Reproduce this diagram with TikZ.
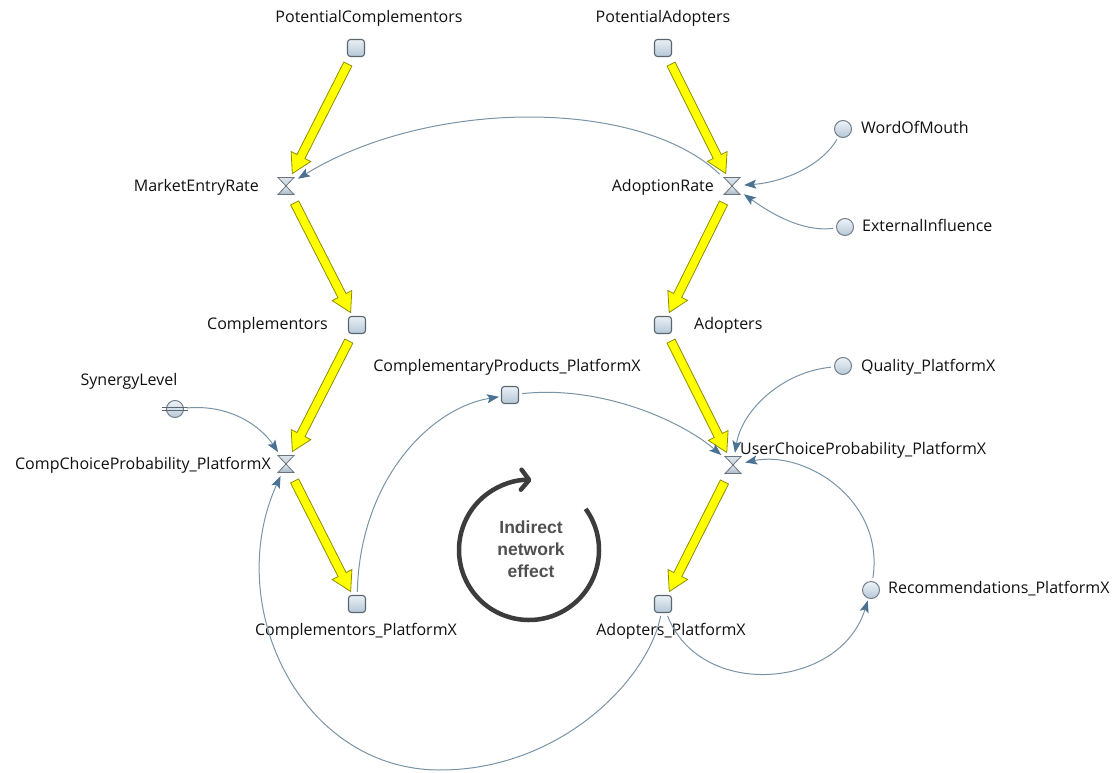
\documentclass[tikz,border=0pt]{standalone}
\usepackage{fontspec}
\setmainfont{Open Sans}
\newfontfamily\loopfont{Liberation Sans}
\usetikzlibrary{arrows.meta,calc}

\definecolor{stockedge}{HTML}{5C666F}
\definecolor{stocktop}{HTML}{EAF0F5}
\definecolor{stockbot}{HTML}{B4C7D8}
\definecolor{auxedge}{HTML}{747F89}
\definecolor{auxtop}{HTML}{EEF3F8}
\definecolor{auxbot}{HTML}{B6C8D7}
\definecolor{valveedge}{HTML}{6A737C}
\definecolor{valvetop}{HTML}{E2E9EF}
\definecolor{valvebot}{HTML}{A7B8C6}
\definecolor{linkcol}{HTML}{7A94A7}
\definecolor{headcol}{HTML}{4A7292}
\definecolor{flowedge}{HTML}{8E8E00}
\definecolor{flowfill}{HTML}{FFFF00}
\definecolor{loopcol}{HTML}{3C3C3C}
\definecolor{labelcol}{HTML}{111111}

% yellow material-flow arrow between two named nodes
\newcommand\flowarrow[4]{%
  \coordinate (fa-s) at ($(#1)!#3!(#2)$);
  \coordinate (fa-e) at ($(#2)!#4!(#1)$);
  \coordinate (fa-n) at ($(fa-e)!19pt!(fa-s)$);
  \filldraw[flow] ($(fa-s)!4.5pt!90:(fa-e)$) -- ($(fa-n)!4.5pt!-90:(fa-s)$)
    -- ($(fa-n)!11pt!-90:(fa-s)$) -- (fa-e) -- ($(fa-n)!11pt!90:(fa-s)$)
    -- ($(fa-n)!4.5pt!90:(fa-s)$) -- ($(fa-s)!4.5pt!-90:(fa-e)$) -- cycle;
}

\tikzset{
  stock/.style={rectangle, rounded corners=3pt, minimum size=17pt, inner sep=0pt,
    draw=stockedge, line width=1.1pt, top color=stocktop, bottom color=stockbot},
  aux/.style={circle, minimum size=17pt, inner sep=0pt, draw=auxedge,
    line width=1pt, top color=auxtop, bottom color=auxbot},
  valve/.style={rectangle, minimum width=20pt, minimum height=20pt, inner sep=0pt,
    path picture={
      \shadedraw[draw=valveedge, line width=0.8pt, top color=valvetop, bottom color=valvebot]
        ([shift={(-8pt,8.5pt)}]path picture bounding box.center)
        -- ([shift={(8pt,8.5pt)}]path picture bounding box.center)
        -- (path picture bounding box.center) -- cycle;
      \shadedraw[draw=valveedge, line width=0.8pt, top color=valvetop, bottom color=valvebot]
        ([shift={(-8pt,-8.5pt)}]path picture bounding box.center)
        -- ([shift={(8pt,-8.5pt)}]path picture bounding box.center)
        -- (path picture bounding box.center) -- cycle;
      \draw[valveedge, line width=1.4pt]
        ([shift={(-8pt,8.5pt)}]path picture bounding box.center)
        -- ([shift={(8pt,8.5pt)}]path picture bounding box.center)
        ([shift={(-8pt,-8.5pt)}]path picture bounding box.center)
        -- ([shift={(8pt,-8.5pt)}]path picture bounding box.center);
    }},
  flow/.style={draw=flowedge, fill=flowfill, line width=0.8pt, line join=miter},
  link/.style={draw=linkcol, line width=1pt, shorten <=3pt, shorten >=2pt,
    -{Stealth[length=12pt,width=9pt,inset=2.5pt,color=headcol]}},
  lbl/.style={inner sep=0pt, text=labelcol, font=\fontsize{16}{19}\selectfont},
  shadowbar/.style={draw=stockedge, line width=1.1pt},
}

\begin{document}
\begin{tikzpicture}[x=1pt,y=-1pt]
\useasboundingbox[fill=white] (0,0) rectangle (1116,773);

% stocks, valves and auxiliaries
\node[stock] (pc)   at (356,48)  {};
\node[stock] (pa)   at (663,48)  {};
\node[valve] (mer)  at (286,186) {};
\node[valve] (ar)   at (732,186) {};
\node[aux]   (wom)  at (843,129) {};
\node[aux]   (ext)  at (845,227) {};
\node[stock] (cmp)  at (357,325) {};
\node[stock] (adp)  at (663,325) {};
\node[stock] (cpp)  at (510,395) {};
\node[aux]   (qual) at (843,366) {};
\node[aux]   (syn)  at (175,409) {};
\node[valve] (ccp)  at (286,464) {};
\node[valve] (ucp)  at (733,465) {};
\node[aux]   (rec)  at (871,590) {};
\node[stock] (cpx)  at (357,604) {};
\node[stock] (apx)  at (663,604) {};

% shadow marker on SynergyLevel
\draw[shadowbar] ([shift={(-13pt,1.6pt)}]syn.center) -- ([shift={(13pt,1.6pt)}]syn.center);
\draw[shadowbar] ([shift={(-13pt,-1.6pt)}]syn.center) -- ([shift={(13pt,-1.6pt)}]syn.center);

% labels
\node[lbl, anchor=base] (l-pc) at (369,23) {PotentialComplementors};
\node[lbl, anchor=base] (l-pa) at (663,23) {PotentialAdopters};
\node[lbl, anchor=base east] (l-mer) at (259,191) {MarketEntryRate};
\node[lbl, anchor=base east] (l-ar) at (714,191) {AdoptionRate};
\node[lbl, anchor=base west] (l-wom) at (861,134) {WordOfMouth};
\node[lbl, anchor=base west] (l-ext) at (862,231) {ExternalInfluence};
\node[lbl, anchor=base east] (l-cmp) at (328,329) {Complementors};
\node[lbl, anchor=base west] (l-adp) at (694,329) {Adopters};
\node[lbl, anchor=base] (l-cpp) at (507,371) {ComplementaryProducts\_PlatformX};
\node[lbl, anchor=base west] (l-qual) at (861,371) {Quality\_PlatformX};
\node[lbl, anchor=base] (l-syn) at (129,385) {SynergyLevel};
\node[lbl, anchor=base east] (l-ccp) at (271,469) {CompChoiceProbability\_PlatformX};
\node[lbl, anchor=base west] (l-ucp) at (740,454) {UserChoiceProbability\_PlatformX};
\node[lbl, anchor=base west] (l-rec) at (888,593) {Recommendations\_PlatformX};
\node[lbl, anchor=base] (l-cpx) at (356,635) {Complementors\_PlatformX};
\node[lbl, anchor=base] (l-apx) at (671,635) {Adopters\_PlatformX};

% material flows
\flowarrow{pc}{mer}{18pt}{14pt}
\flowarrow{mer}{cmp}{19pt}{14pt}
\flowarrow{cmp}{ccp}{18pt}{14pt}
\flowarrow{ccp}{cpx}{19pt}{14pt}
\flowarrow{pa}{ar}{18pt}{14pt}
\flowarrow{ar}{adp}{19pt}{14pt}
\flowarrow{adp}{ucp}{18pt}{14pt}
\flowarrow{ucp}{apx}{19pt}{14pt}

% information links
\draw[link] (ar) .. controls (640,98) and (430,98) .. (mer);
\draw[link] (wom) .. controls (822,165) and (785,182) .. (ar);
\draw[link] (ext) .. controls (802,232) and (772,214) .. (ar);
\draw[link] (syn) .. controls (232,404) and (262,428) .. (ccp);
\draw[link] (cpx) .. controls (360,480) and (430,408) .. (cpp);
\draw[link] (cpp) .. controls (600,385) and (680,420) .. (ucp);
\draw[link] (qual) .. controls (782,372) and (742,410) .. (ucp);
\draw[link] (rec) .. controls (885,500) and (805,450) .. (ucp);
\draw[link] (apx) .. controls (700,700) and (840,690) .. (rec);
\draw[link] (apx) .. controls (648,680) and (560,770) .. (440,770)
  .. controls (300,770) and (222,605) .. (ccp);

% loop marker
\draw[loopcol, line width=4.5pt, -{Straight Barb[length=8pt,width=20pt,round]}]
  (529,550) ++(-36:70) arc[start angle=-36, end angle=272, radius=70];
\node[inner sep=0pt, align=center, text=loopcol!90!white,
  font=\loopfont\bfseries\fontsize{17.5}{22}\selectfont] (loop) at (531,549)
  {Indirect\\network\\effect};
\end{tikzpicture}
\end{document}
